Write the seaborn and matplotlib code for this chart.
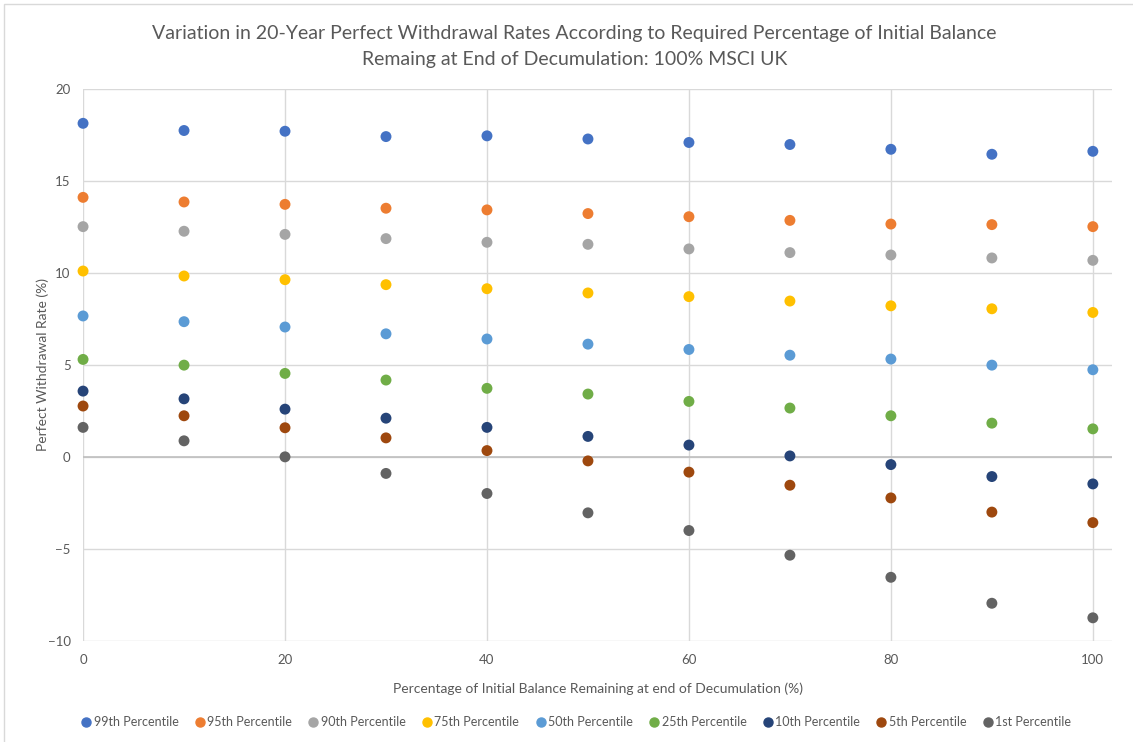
import seaborn as sns
import matplotlib.pyplot as plt
import matplotlib.patches as mpatches
import pandas as pd

# % of initial balance remaining at end of decumulation
remaining = [0, 10, 20, 30, 40, 50, 60, 70, 80, 90, 100]

percentiles = ["99th Percentile", "95th Percentile", "90th Percentile", "75th Percentile",
               "50th Percentile", "25th Percentile", "10th Percentile", "5th Percentile",
               "1st Percentile"]

p99 = [18.11, 17.72, 17.68, 17.39, 17.43, 17.26, 17.07, 16.96, 16.70, 16.43, 16.59]
p95 = [14.09, 13.84, 13.71, 13.50, 13.41, 13.21, 13.04, 12.84, 12.64, 12.61, 12.50]
p90 = [12.50, 12.25, 12.08, 11.85, 11.65, 11.54, 11.29, 11.09, 10.96, 10.80, 10.67]
p75 = [10.09, 9.82, 9.62, 9.35, 9.13, 8.90, 8.70, 8.46, 8.20, 8.04, 7.84]
p50 = [7.65, 7.34, 7.05, 6.68, 6.40, 6.12, 5.83, 5.52, 5.31, 4.98, 4.73]
p25 = [5.29, 4.98, 4.53, 4.17, 3.72, 3.41, 3.01, 2.65, 2.23, 1.83, 1.52]
p10 = [3.57, 3.15, 2.59, 2.10, 1.60, 1.11, 0.64, 0.05, -0.42, -1.07, -1.47]
p5 = [2.76, 2.23, 1.58, 1.03, 0.34, -0.22, -0.83, -1.54, -2.23, -3.00, -3.57]
p1 = [1.60, 0.87, 0.00, -0.90, -1.99, -3.04, -4.00, -5.34, -6.54, -7.95, -8.74]

colors = ["#4472C4", "#ED7D31", "#A5A5A5", "#FFC000", "#5B9BD5",
          "#70AD47", "#264478", "#9E480E", "#636363"]

series = [p99, p95, p90, p75, p50, p25, p10, p5, p1]
rows = []
for name, vals in zip(percentiles, series):
    for x, v in zip(remaining, vals):
        rows.append({"Remaining": x, "Rate": v, "Percentile": name})
df = pd.DataFrame(rows)

sns.set_style("white")
plt.rcParams["font.family"] = ["Lato", "DejaVu Sans"]

fig = plt.figure(figsize=(11.33, 7.42), dpi=100)
ax = fig.add_axes([0.0733, 0.1361, 0.9082, 0.7446])

sns.scatterplot(data=df, x="Remaining", y="Rate", hue="Percentile",
                hue_order=percentiles, palette=colors, s=62, linewidth=0,
                legend=False, ax=ax, zorder=3, clip_on=False)

ax.set_xlim(0, 101.9)
ax.set_ylim(-10, 20)
ax.set_xticks([0, 20, 40, 60, 80, 100])
ax.set_yticks([-10, -5, 0, 5, 10, 15, 20])
ax.grid(True, color="#D9D9D9", linewidth=1)
ax.axhline(0, color="#BFBFBF", linewidth=1.2, zorder=2)
for s in ax.spines.values():
    s.set_visible(False)
ax.tick_params(axis="both", length=0, labelsize=9.5, labelcolor="#595959")
ax.tick_params(axis="y", pad=9)
ax.tick_params(axis="x", pad=9)

ax.set_xlabel("Percentage of Initial Balance Remaining at end of Decumulation (%)",
              fontsize=10, color="#595959", labelpad=12)
ax.set_ylabel("Perfect Withdrawal Rate (%)", fontsize=10, color="#595959", labelpad=-1)

fig.text(0.507, 0.955, "Variation in 20-Year Perfect Withdrawal Rates According to Required Percentage of Initial Balance",
         ha="center", va="center", fontsize=14, color="#595959")
fig.text(0.507, 0.920, "Remaing at End of Decumulation: 100% MSCI UK",
         ha="center", va="center", fontsize=14, color="#595959")

handles = [plt.Line2D([], [], marker="o", linestyle="", color=c, markersize=6.5)
           for c in colors]
fig.legend(handles, percentiles, loc="center", bbox_to_anchor=(0.508, 0.027), ncol=9,
           frameon=False, fontsize=9, handletextpad=0.1, columnspacing=1.2,
           labelcolor="#595959", handlelength=1.0)

fig.patches.append(mpatches.Rectangle((4 / 1133, -0.02), 1.1, 1.0 - 4 / 742 + 0.02,
                                      transform=fig.transFigure, fill=False,
                                      edgecolor="#D9D9D9", linewidth=1))

plt.savefig("out.png", dpi=100)
